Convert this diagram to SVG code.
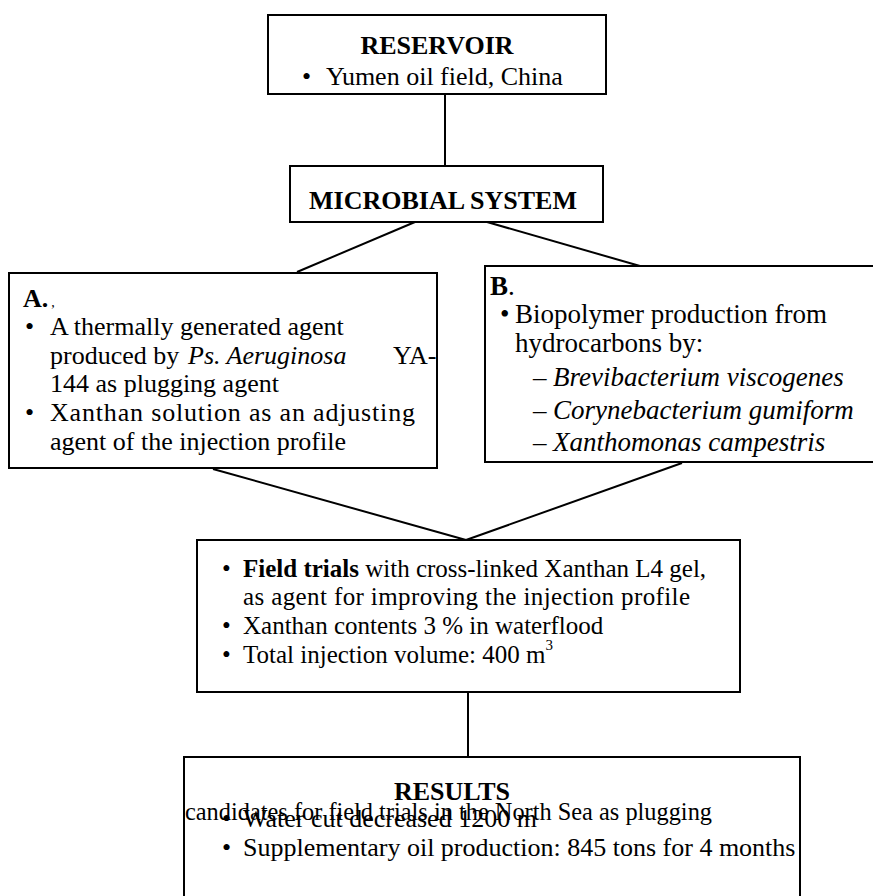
<svg xmlns="http://www.w3.org/2000/svg" width="873" height="896" viewBox="0 0 873 896">
<style>
.box{fill:#fff;stroke:#000;stroke-width:2}
.ln{stroke:#000;stroke-width:2;fill:none}
text{font-family:"Liberation Serif","Times New Roman",serif;font-size:26px;fill:#000}
.b{font-weight:bold}
.i{font-style:italic}
.c{text-anchor:middle}
.sup{font-size:15px}
.t27{font-size:27px}
.t25{font-size:25px}
</style>
<rect width="873" height="896" fill="#fff"/>
<g id="connectors">
<line class="ln" x1="445" y1="94" x2="445" y2="166"/>
<line class="ln" x1="415" y1="222" x2="297" y2="272"/>
<line class="ln" x1="487" y1="222" x2="640" y2="266"/>
<line class="ln" x1="213" y1="469" x2="466" y2="540"/>
<line class="ln" x1="682" y1="463" x2="466" y2="540"/>
<line class="ln" x1="468" y1="692" x2="468" y2="757"/>
</g>
<g id="reservoir">
<rect class="box" x="268" y="15" width="338" height="79"/>
<text class="b c" x="437" y="54">RESERVOIR</text>
<text x="302" y="85">•<tspan x="326">Yumen oil field, China</tspan></text>
</g>
<g id="microbial">
<rect class="box" x="290" y="166" width="313" height="56"/>
<text class="b c" x="443" y="209">MICROBIAL SYSTEM</text>
</g>
<g id="systemA">
<rect class="box" x="9" y="273" width="428" height="195"/>
<text class="b" x="23" y="307">A.<tspan font-weight="normal" font-size="14" dx="3">,</tspan></text>
<text x="25" y="335">•<tspan x="50">A thermally generated agent</tspan></text>
<text x="50" y="364">produced by<tspan class="i" x="188">Ps. Aeruginosa</tspan><tspan x="393">YA-</tspan></text>
<text x="50" y="392">144 as plugging agent</text>
<text x="25" y="421">•<tspan x="50" textLength="365" lengthAdjust="spacing">Xanthan solution as an adjusting</tspan></text>
<text x="50" y="450">agent of the injection profile</text>
</g>
<g id="systemB">
<rect class="box" x="485" y="266" width="400" height="196"/>
<text class="b t27" x="490" y="295">B<tspan font-weight="normal">.</tspan></text>
<text class="t27" x="500" y="323">•<tspan x="515">Biopolymer production from</tspan></text>
<text class="t27" x="515" y="352">hydrocarbons by:</text>
<text class="t27" x="533" y="386">–<tspan class="i" x="553">Brevibacterium viscogenes</tspan></text>
<text class="t27" x="533" y="419">–<tspan class="i" x="553">Corynebacterium gumiform</tspan></text>
<text class="t27" x="533" y="451">–<tspan class="i" x="553">Xanthomonas campestris</tspan></text>
</g>
<g id="fieldtrials">
<rect class="box" x="197" y="540" width="543" height="152"/>
<text class="t25" x="222" y="577">•<tspan x="243" font-weight="bold">Field trials</tspan> with cross-linked Xanthan L4 gel,</text>
<text class="t25" x="243" y="605" textLength="447" lengthAdjust="spacing">as agent for improving the injection profile</text>
<text class="t25" x="222" y="634">•<tspan x="243">Xanthan contents 3 % in waterflood</tspan></text>
<text class="t25" x="222" y="663">•<tspan x="243">Total injection volume: 400 m</tspan><tspan class="sup" dy="-13">3</tspan></text>
</g>
<g id="results">
<rect class="box" x="184" y="757" width="616" height="140"/>
<text class="b c" x="452" y="800">RESULTS</text>
<text x="185" y="820" font-size="24" textLength="527" lengthAdjust="spacingAndGlyphs">candidates for field trials in the North Sea as plugging</text>
<text x="222" y="827">•<tspan x="243">Water cut decreased 1200 m</tspan></text>
<text x="222" y="856">•<tspan x="243">Supplementary oil production: 845 tons for 4 months</tspan></text>
</g>
</svg>
